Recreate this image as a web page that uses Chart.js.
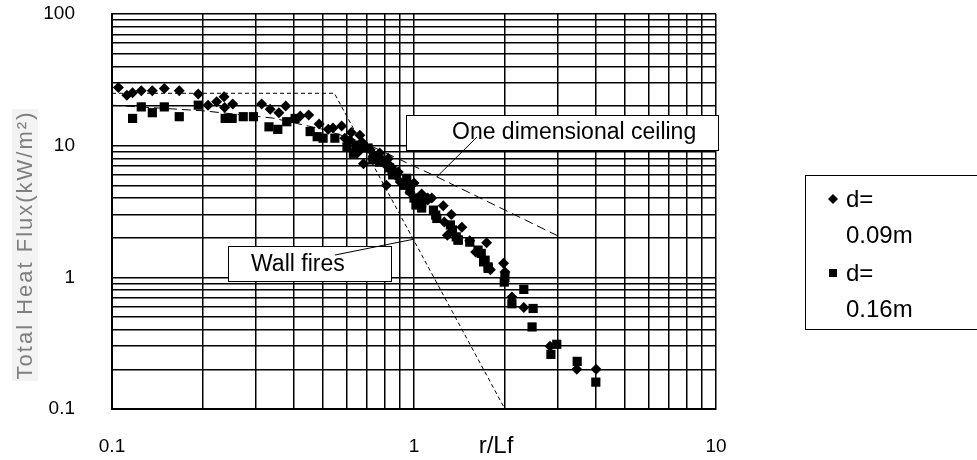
<!DOCTYPE html>
<html>
<head>
<meta charset="utf-8">
<script src="https://cdn.jsdelivr.net/npm/chart.js@4.4.0/dist/chart.umd.min.js"></script>
<style>
html, body { margin: 0; padding: 0; background: #fff; }
</style>
</head>
<body>
<canvas id="grafico" width="977" height="460"></canvas>
<script>
// grid / tick values
const xGrid = [0.1,0.2,0.3,0.4,0.5,0.6,0.7,0.8,0.9,1,2,3,4,5,6,7,8,9,10];
const yGrid = [0.1,0.2,0.3,0.4,0.5,0.6,0.7,0.8,0.9,1,2,3,4,5,6,7,8,9,10,20,30,40,50,60,70,80,90,100];
const xTickLabels = [0.1, 1, 10];
const yTickLabels = [0.1, 1, 10, 100];

// measured points [r/Lf, heat flux]
const serieD009 = [[0.105,27.7],[0.112,24.2],[0.117,25.2],[0.125,26.1],[0.136,26.1],[0.149,27.2],[0.167,26.1],[0.193,24.7],
  [0.208,20.3],[0.222,21.6],[0.235,23.5],[0.236,19.5],[0.251,20.7],[0.313,20.7],[0.334,18.9],[0.357,17.8],[0.376,20.0],
  [0.42,16.8],[0.448,17.1],[0.485,14.6],[0.52,13.3],[0.539,13.6],[0.576,14.1],[0.59,11.4],[0.62,12.6],[0.662,12.0],
  [0.614,11.0],[0.673,10.6],[0.737,8.5],[0.808,7.1],[0.653,8.9],[0.872,5.9],[0.97,4.4],[1.11,3.86],[1.26,2.63],
  [1.29,2.09],[1.60,1.56],[1.79,1.14],
  [0.68,7.3],[0.716,9.3],[0.77,8.8],[0.81,5.0],[0.822,8.0],[0.83,7.1],[0.887,6.3],[0.9,5.3],[0.97,4.9],[1.0,5.2],
  [1.06,4.3],[1.11,4.0],[1.145,4.0],[1.25,3.5],[1.33,3.0],[1.44,2.4],[1.53,1.9],[1.74,1.83],[1.98,1.28],[2.0,1.1],
  [2.11,0.71],[2.31,0.59],[2.82,0.30],[3.46,0.20],[4.01,0.20]];
const serieD016 = [[0.117,16.1],[0.125,19.7],[0.136,17.8],[0.149,19.7],[0.167,16.6],[0.193,20.3],[0.237,16.1],[0.25,16.1],
  [0.272,16.6],[0.294,16.6],[0.331,13.9],[0.354,13.3],[0.379,15.2],[0.404,16.1],[0.453,12.8],[0.478,11.7],[0.5,11.4],
  [0.547,11.4],[0.6,9.8],[0.63,8.75],[0.68,9.8],[0.73,7.8],[0.77,7.5],[0.83,6.8],[0.85,6.0],[0.946,5.65],[0.97,4.6],
  [0.643,10.1],[0.705,9.6],[0.772,7.8],[0.846,6.5],[0.927,5.0],[1.015,3.54],[1.06,3.36],[1.18,2.97],[1.34,2.29],
  [1.40,1.92],[1.70,1.31],
  [1.0,4.0],[1.034,3.86],[1.06,3.65],[1.16,3.24],[1.19,2.8],[1.32,2.5],[1.38,2.03],[1.40,1.92],[1.53,1.85],[1.63,1.61],
  [1.67,1.52],[1.72,1.35],[1.76,1.17],[1.76,1.2],[1.99,0.92],[2.0,1.0],[2.11,0.63],[2.31,0.81],[2.46,0.42],[2.48,0.58],
  [2.84,0.26],[2.97,0.31],[3.47,0.23],[4.00,0.16]];

// model curves
const curvaParede = [[0.1,25],[0.545,25],[2,0.1]];
const curvaTeto = [[0.1,20.3],[0.2,18.4],[0.341,16.2],[0.5,13.3],[0.678,10.6],[1.19,5.8],[3,2.06]];

const legendaTextos = ['d=', '0.09m', 'd=', '0.16m'];
const notaTeto = 'One dimensional ceiling';
const notaParede = 'Wall fires';
const alvoTeto = [1.19, 5.8];
const alvoParede = [1.0, 1.95];

const pontos = arr => arr.map(p => ({x: p[0], y: p[1]}));
const fonte = '"Liberation Sans", Arial, sans-serif';

const extras = {
    id: 'extras',
    afterDraw(chart) {
        const ctx = chart.ctx;
        const xs = chart.scales.x, ys = chart.scales.y;
        ctx.save();

        // y title
        ctx.save();
        ctx.translate(25, 245);
        ctx.rotate(-Math.PI / 2);
        ctx.fillStyle = '#f3f3f3';
        ctx.fillRect(-136, -13, 272, 26);
        ctx.fillStyle = '#7f7f7f';
        ctx.font = '22px ' + fonte;
        ctx.letterSpacing = '2px';
        ctx.textAlign = 'center';
        ctx.textBaseline = 'middle';
        ctx.fillText('Total Heat Flux(kW/m²)', 0, 1);
        ctx.restore();

        // x title
        ctx.fillStyle = '#000';
        ctx.font = '24px ' + fonte;
        ctx.textAlign = 'center';
        ctx.textBaseline = 'middle';
        ctx.fillText('r/Lf', 496, 446);

        // ceiling note
        ctx.lineWidth = 1;
        ctx.strokeStyle = '#000';
        ctx.fillStyle = '#fff';
        ctx.fillRect(406.5, 115.5, 312, 35);
        ctx.strokeRect(406.5, 115.5, 312, 35);
        ctx.beginPath();
        ctx.moveTo(477, 137);
        ctx.lineTo(xs.getPixelForValue(alvoTeto[0]), ys.getPixelForValue(alvoTeto[1]));
        ctx.stroke();
        ctx.fillStyle = '#000';
        ctx.font = '23px ' + fonte;
        ctx.textAlign = 'left';
        ctx.fillText(notaTeto, 452, 133);

        // wall note
        ctx.fillStyle = '#fff';
        ctx.fillRect(228.5, 246.5, 163, 35);
        ctx.strokeRect(228.5, 246.5, 163, 35);
        ctx.beginPath();
        ctx.moveTo(335, 255);
        ctx.lineTo(xs.getPixelForValue(alvoParede[0]), ys.getPixelForValue(alvoParede[1]));
        ctx.stroke();
        ctx.fillStyle = '#000';
        ctx.fillText(notaParede, 251, 265);

        // legend
        ctx.fillStyle = '#fff';
        ctx.fillRect(805.5, 175.5, 190, 154);
        ctx.strokeRect(805.5, 175.5, 190, 154);
        ctx.fillStyle = '#000';
        ctx.beginPath();
        ctx.moveTo(833, 194); ctx.lineTo(838, 199); ctx.lineTo(833, 204); ctx.lineTo(828, 199);
        ctx.closePath();
        ctx.fill();
        ctx.fillRect(829, 269, 8, 8);
        ctx.font = '24px ' + fonte;
        ctx.fillText(legendaTextos[0], 846, 200);
        ctx.fillText(legendaTextos[1], 846, 236);
        ctx.fillText(legendaTextos[2], 846, 274);
        ctx.fillText(legendaTextos[3], 846, 310);
        ctx.restore();
    }
};

const ticksFixos = valores => scale => { scale.ticks = valores.map(v => ({value: v})); };
const semPadding = s => { s.paddingTop = 0; s.paddingBottom = 0; s.paddingLeft = 0; s.paddingRight = 0; };

new Chart(document.getElementById('grafico').getContext('2d'), {
    type: 'scatter',
    data: {
        datasets: [{
            label: 'd=0.09m',
            data: pontos(serieD009),
            pointStyle: 'rectRot',
            pointRadius: 5.5,
            backgroundColor: '#000',
            borderColor: '#000',
            borderWidth: 0
        }, {
            label: 'd=0.16m',
            data: pontos(serieD016),
            pointStyle: 'rect',
            pointRadius: 6.5,
            backgroundColor: '#000',
            borderColor: '#000',
            borderWidth: 0
        }, {
            label: 'Wall fires',
            data: pontos(curvaParede),
            showLine: true,
            pointRadius: 0,
            borderColor: '#000',
            borderWidth: 1,
            borderDash: [4, 3]
        }, {
            label: 'One dimensional ceiling',
            data: pontos(curvaTeto),
            showLine: true,
            pointRadius: 0,
            borderColor: '#000',
            borderWidth: 1,
            borderDash: [9, 5]
        }]
    },
    options: {
        responsive: false,
        animation: false,
        devicePixelRatio: 1,
        layout: { autoPadding: false, padding: { left: 0, top: 14, right: 261, bottom: 0 } },
        plugins: { legend: { display: false }, tooltip: { enabled: false } },
        scales: {
            x: {
                type: 'logarithmic',
                min: 0.1,
                max: 10,
                afterBuildTicks: ticksFixos(xGrid),
                afterFit: s => { s.height = 51; semPadding(s); },
                grid: { color: '#000', lineWidth: 1.5, drawTicks: false },
                border: { color: '#000', width: 2 },
                ticks: {
                    autoSkip: false,
                    maxRotation: 0,
                    padding: 26,
                    color: '#000',
                    font: { family: fonte, size: 19 },
                    callback: v => xTickLabels.includes(v) ? String(v) : ''
                }
            },
            y: {
                type: 'logarithmic',
                min: 0.1,
                max: 100,
                afterBuildTicks: ticksFixos(yGrid),
                afterFit: s => { s.width = 112; semPadding(s); },
                grid: { color: '#000', lineWidth: 1.5, drawTicks: false },
                border: { color: '#000', width: 2 },
                ticks: {
                    autoSkip: false,
                    padding: 37,
                    color: '#000',
                    font: { family: fonte, size: 19 },
                    callback: v => yTickLabels.includes(v) ? String(v) : ''
                }
            }
        }
    },
    plugins: [extras]
});
</script>
</body>
</html>
